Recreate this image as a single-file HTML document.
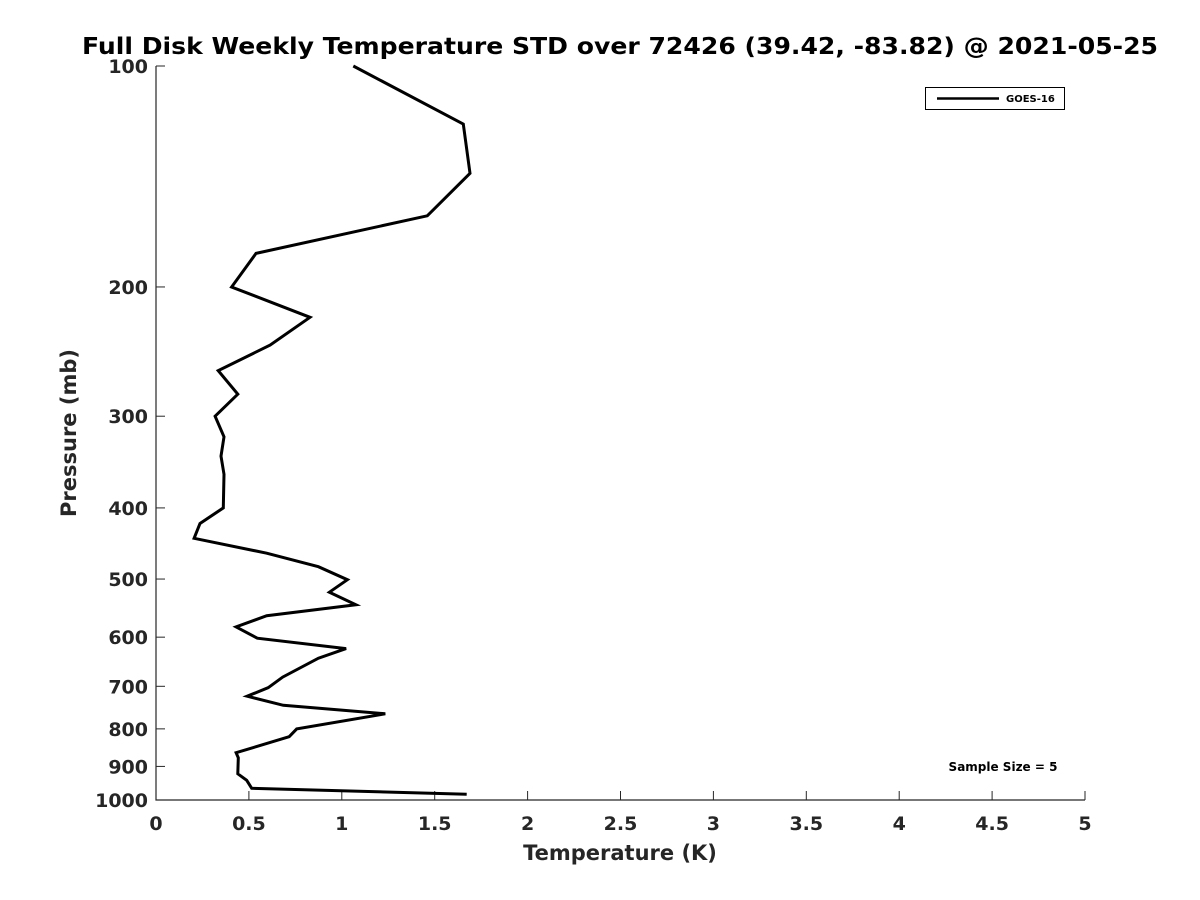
<!DOCTYPE html>
<html><head><meta charset="utf-8"><style>
body{margin:0;background:#fff;}
svg{display:block;font-family:"DejaVu Sans","Liberation Sans",sans-serif;font-weight:bold;}
</style></head><body>
<svg id="chart" width="1200" height="900" xmlns="http://www.w3.org/2000/svg">
<rect width="1200" height="900" fill="#fff"/>
<text x="620" y="54" text-anchor="middle" font-size="23" fill="#000" textLength="1076" lengthAdjust="spacingAndGlyphs">Full Disk Weekly Temperature STD over 72426 (39.42, -83.82) @ 2021-05-25</text>
<g id="axes"></g>
<text transform="translate(76,433) rotate(-90)" text-anchor="middle" font-size="21" fill="#262626">Pressure (mb)</text>
<text x="620" y="860" text-anchor="middle" font-size="21" fill="#262626">Temperature (K)</text>
<g>
<rect x="925.5" y="87.5" width="139" height="22" fill="#fff" stroke="#000" stroke-width="1"/>
<line x1="937" y1="98.5" x2="999" y2="98.5" stroke="#000" stroke-width="2.5"/>
<text x="1006" y="102" font-size="10" fill="#000">GOES-16</text>
</g>
<text x="1003" y="771" text-anchor="middle" font-size="12" fill="#000">Sample Size = 5</text>
</svg>
<script>
const pressures=[100,120,140,160,180,200,220,240,260,280,300,320,340,360,400,420,440,461,481,501,521,542,561,581,602,622,641,680,703,722,743,763,800,820,862,876,921,940,964,982];
const tempStd=[1.062,1.654,1.690,1.460,0.538,0.407,0.829,0.614,0.335,0.440,0.318,0.366,0.350,0.366,0.362,0.237,0.205,0.596,0.874,1.030,0.933,1.076,0.596,0.431,0.545,1.023,0.874,0.682,0.604,0.491,0.685,1.234,0.757,0.717,0.431,0.443,0.440,0.488,0.515,1.672];
const xTicks=[0,0.5,1,1.5,2,2.5,3,3.5,4,4.5,5];
const xTickLabels=["0","0.5","1","1.5","2","2.5","3","3.5","4","4.5","5"];
const yTicks=[100,200,300,400,500,600,700,800,900,1000];
const yTickLabels=["100","200","300","400","500","600","700","800","900","1000"];
const X0=156,X1=1085,Y0=66,Y1=800;
const xs=v=>X0+(v-0)/(5-0)*(X1-X0);
const ys=p=>Y0+(Math.log10(p)-2)/1*(Y1-Y0);
const NS="http://www.w3.org/2000/svg";
const svg=document.getElementById('chart');
const g=document.getElementById('axes');
function mk(tag,attrs,parent){const e=document.createElementNS(NS,tag);for(const k in attrs)e.setAttribute(k,attrs[k]);(parent||g).appendChild(e);return e;}
const ax=mk('path',{d:`M${X0},${Y0}V${Y1}H${X1}`,fill:'none',stroke:'#262626','stroke-width':1.2});


xTicks.forEach((v,i)=>{
  const x=xs(v);
  const t=mk('line',{x1:x,x2:x,y1:Y1,y2:Y1-9,stroke:'#262626','stroke-width':1});
  
  
  const l=mk('text',{x:x,y:Y1+30,'text-anchor':'middle','font-size':19,fill:'#262626'});
  l.textContent=xTickLabels[i];
  
  
});
yTicks.forEach((p,i)=>{
  const y=ys(p);
  const t=mk('line',{x1:X0,x2:X0+9,y1:y,y2:y,stroke:'#262626','stroke-width':1});
  
  
  const l=mk('text',{x:X0-8,y:y+7,'text-anchor':'end','font-size':19,fill:'#262626'});
  l.textContent=yTickLabels[i];
  
  
});
const pts=pressures.map((p,i)=>xs(tempStd[i]).toFixed(1)+','+ys(p).toFixed(1)).join(' ');
const line=mk('polyline',{points:pts,fill:'none',stroke:'#000','stroke-width':3,'stroke-linejoin':'miter'},svg);


</script>
</body></html>
